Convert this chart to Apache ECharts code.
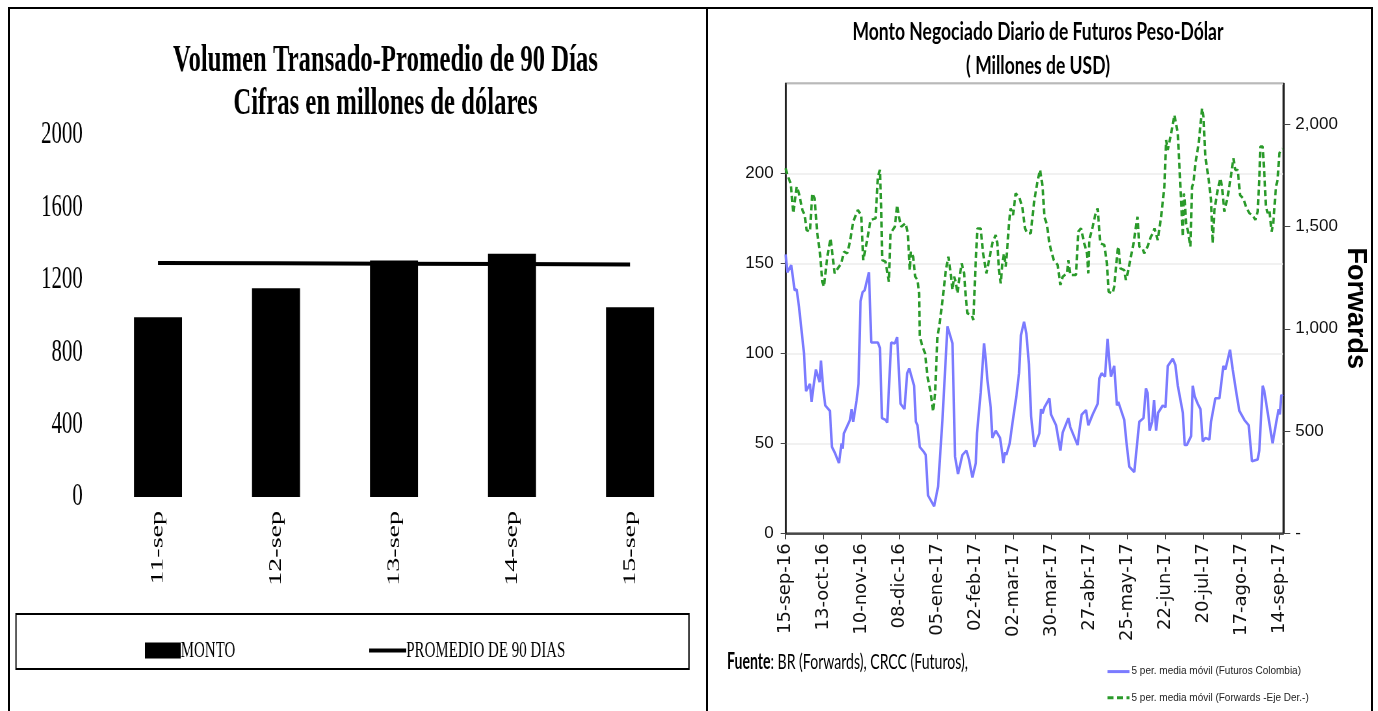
<!DOCTYPE html>
<html><head><meta charset="utf-8">
<script src="https://cdn.jsdelivr.net/npm/echarts@6/dist/echarts.min.js"></script>
<style>
html,body{margin:0;padding:0;background:#fff;overflow:hidden}
#right{position:absolute;left:0;top:0;width:1378px;height:711px}
#left{position:absolute;left:0;top:0;width:1089px;height:711px;transform:scaleX(0.65);transform-origin:0 0}
</style></head><body>
<div id="right"></div><div id="left"></div>
<script>
// ---------- Left chart data ----------
const volCategories = ['11-sep', '12-sep', '13-sep', '14-sep', '15-sep'];
const volMonto = [993, 1154, 1306, 1344, 1049];
const volPromedio90 = [1293, 1291, 1289, 1287, 1284];

// ---------- Right chart data (x = days since 15-sep-16) ----------
const dateTickLabels = ['15-sep-16','13-oct-16','10-nov-16','08-dic-16','05-ene-17','02-feb-17','02-mar-17','30-mar-17','27-abr-17','25-may-17','22-jun-17','20-jul-17','17-ago-17','14-sep-17'];
const futDays = [0,1.2,4.1,6.6,8.1,9.8,13.5,15,17.9,19.1,20.4,22.3,25,26,27.7,29.2,32.6,34.1,36.1,39.3,41.2,42,42.9,47.4,48.6,49.8,52.3,53.7,55.2,56.7,58.2,61.4,63.1,68,69.5,71,73.6,74.9,77.8,80.5,82.2,84.7,87.6,89.6,91.1,94.7,96,97.2,98.9,102.1,103.3,105,109.5,110.7,112.4,113.2,115.6,117.6,119.3,120.5,123,124.9,127.1,130.3,133.3,135.2,137.7,138.4,140.2,141.1,143.8,146.3,147.5,148.8,151.2,152.4,154.9,158.1,159.8,160.5,161.8,162.7,165.2,167.2,168.1,170.1,172.1,173.5,175.8,177.5,179.4,181,183.4,187.1,188.3,189.5,190.8,194.5,195.7,196.9,199.4,202.6,204.3,208.5,209.9,215.3,216.6,218.3,221.5,223.2,226.4,230.1,231.3,233,235.5,237.4,238.7,239.9,242.3,244.3,245.3,249.7,251.4,253.4,257.1,258.3,260.8,263.9,265.7,266.9,268.4,270.3,271.7,273.2,274.7,278.1,280.1,281.8,285.5,287.4,289.2,292.9,294.3,295.8,299,300.2,301.7,303.9,305.9,307.6,309.5,312.5,313.7,315,316.9,319.9,322.8,324.3,327.7,329.7,332.6,334.6,335.8,338.3,341.5,343.9,348.1,349.3,351.8,353,355.5,359.1,362.1,363.6,364.5,365.5,366.5];
const futVals = [155,145,149,135,135.5,126,100,79,83,73,81,91,84,96,80,71,68,48,45,39,50,47,55.5,63,69,62,74,83,129,134,135,145,106,106,103,64,63,61.5,106,105.5,109,72,69,89,91.6,82,62,60,48,45,43.5,21,15,14.4,26,27,63,91,115,112,105.5,42.6,33,43.5,46,41,31,30,39,55.5,78,105.5,97,85,70,53,57,53,44,39,45,43.5,50,61,60,76,89,110,117.6,111,94,65,48,55.5,69,66.6,70,75,66,67,60,46,56,64,59,49,57,66,68.5,60,66,72,86,89,87,108,96,87,93,71,73,63,50,37,34,35,62,64,80.5,78,57,62,74,57,67,71,70,93,97,93.5,82,67,49,49,54,82,76,72,69,51,53,52,62,63,75,75,93,91,102,91,77,68,69,63,60,40,41,46,82,79,67,50,63,69,66,77,76];
const fwdDays = [0,1.2,3.7,5.6,8.1,9.8,12.3,14,15.4,17.9,19.6,21.3,23.3,25.3,27,28.2,30.7,33.1,34.3,36.1,38.5,41,43,45.4,47.4,49.8,53.2,55.7,57.2,60.1,62.6,66.3,68,69.5,70.4,71.2,73.6,74.9,76.1,77.3,80.5,82.2,83.5,85.2,88.4,90.1,91.5,92.3,94,95.5,97.2,98.4,98.9,100.9,102.8,104.6,107,108.7,110.2,111.9,113.2,115.1,116.8,118.1,120,121.7,123,124.2,125.4,126.7,127.9,129.8,131.6,132.8,134,137.2,138.4,140.2,141.4,143.8,145.6,148,150,152.4,154.9,156.1,157.3,158.6,159.8,161,162.3,163.5,164.7,165.9,167.7,169.6,172.1,174.5,176.5,178.2,180.7,183.4,185.9,187.6,189.5,190.8,192.7,194.5,195.7,197.7,200.6,202.6,204.3,207.5,208.5,209.9,214.1,215.8,217.8,220.2,222.2,223.2,223.9,226.4,228.3,230.1,232,235,236.9,238.2,241.1,242.3,244.8,245.5,246.8,249.7,250.9,252.2,254.6,256.6,258.3,259.5,260.8,263.2,264.4,266.9,269.3,270.8,272,274.4,276.9,279.3,280.6,281.8,284.3,286.7,287.9,289.2,290.4,291.6,292.9,293.6,294.3,295.3,296.5,298.5,299.7,300.7,302.2,304.6,307.1,308.1,309.5,312,313.7,314.9,316.2,318.6,320.6,321.8,323.5,326,328.5,330.2,331.6,333.4,335.1,337.5,339.5,342,344.4,346.4,348.1,349.3,350.1,351.8,353,354.2,355.5,356.7,358.4,359.6,361.6,362.8,364.1,365.3,366.5];
const fwdVals = [1785,1752,1711,1565,1695,1662,1581,1556,1483,1475,1662,1638,1467,1369,1230,1206,1353,1442,1451,1271,1296,1320,1377,1369,1426,1524,1581,1556,1336,1434,1532,1540,1744,1777,1597,1336,1328,1336,1230,1467,1499,1605,1548,1499,1516,1467,1287,1377,1353,1255,1239,1173,962,913,880,766,684,595,684,962,1010,1108,1206,1287,1353,1271,1190,1255,1230,1173,1239,1320,1271,1157,1076,1067,1043,1336,1491,1491,1369,1271,1336,1418,1459,1418,1287,1222,1320,1369,1304,1402,1516,1589,1556,1662,1646,1597,1491,1467,1467,1630,1728,1777,1695,1548,1508,1418,1385,1336,1312,1214,1255,1271,1336,1263,1263,1475,1491,1418,1369,1271,1434,1499,1556,1589,1418,1410,1320,1181,1173,1206,1385,1402,1296,1287,1239,1271,1353,1418,1499,1548,1402,1394,1369,1402,1450,1467,1491,1434,1548,1695,1923,1874,1956,2045,2037,1956,1793,1630,1450,1662,1630,1516,1483,1402,1695,1711,1809,1907,2078,2037,1842,1728,1630,1418,1581,1679,1736,1695,1573,1646,1752,1834,1777,1777,1654,1638,1597,1565,1556,1532,1573,1728,1891,1891,1760,1597,1565,1581,1475,1516,1695,1728,1858,1874,1880];

const zip = (xs, ys) => xs.map((x, i) => [x, ys[i]]);

// text width helper for condensed text
const c2d = document.createElement('canvas').getContext('2d');
function textW(font, txt) { c2d.font = font; return c2d.measureText(txt).width; }

const T1 = 'Monto Negociado Diario de Futuros Peso-Dólar';
const T2 = '( Millones de USD)';
const titleFont = 'bold 25px Lato';
const titleScale = 371 / textW(titleFont, T1);
const fuenteScale = 241 / (textW('bold 22px Lato', 'Fuente') + textW('22px Lato', ': BR (Forwards), CRCC (Futuros),'));
const narrow = '"Liberation Sans Narrow", "Liberation Sans", sans-serif';
const hiddenSymbol = { color: 'rgba(0,0,0,0)', borderWidth: 0, opacity: 0 };

// ---------- Right chart ----------
const rc = echarts.init(document.getElementById('right'));
rc.setOption({
  animation: false,
  backgroundColor: '#fff',
  graphic: [
    { type: 'rect', silent: true, shape: { x: 9, y: 8, width: 1363, height: 720 }, style: { fill: null, stroke: '#000', lineWidth: 2 } },
    { type: 'line', silent: true, shape: { x1: 707, y1: 8, x2: 707, y2: 711 }, style: { stroke: '#000', lineWidth: 2 } },
    { type: 'text', x: 1038, y: 32, scaleX: titleScale, style: { text: T1, font: titleFont, fill: '#000', align: 'center', verticalAlign: 'middle' } },
    { type: 'text', x: 1038, y: 66, scaleX: titleScale, style: { text: T2, font: titleFont, fill: '#000', align: 'center', verticalAlign: 'middle' } },
    { type: 'text', x: 727, y: 662, scaleX: fuenteScale, style: {
        text: '{b|Fuente}{r|: BR (Forwards), CRCC (Futuros),}', verticalAlign: 'middle',
        rich: { b: { fontFamily: 'Lato', fontWeight: 'bold', fontSize: 22, fill: '#000' }, r: { fontFamily: 'Lato', fontSize: 22, fill: '#000' } } } }
  ],
  grid: { left: 785.7, right: 94.7, top: 83.4, bottom: 177.7, show: true, borderColor: '#222', borderWidth: 1.5, backgroundColor: 'transparent' },
  legend: {
    orient: 'vertical', left: 1101, top: 661, itemWidth: 22, itemHeight: 14, itemGap: 15,
    itemStyle: hiddenSymbol,
    lineStyle: { width: 3 },
    textStyle: { fontFamily: narrow, fontSize: 10, color: '#222', padding: [0, 0, 0, -3] },
    data: ['5 per. media móvil (Futuros Colombia)', '5 per. media móvil (Forwards -Eje Der.-)']
  },
  xAxis: {
    type: 'value', min: 0, max: 367, interval: 28,
    axisLine: { lineStyle: { color: '#222', width: 1.5 } },
    axisTick: { show: true, length: 6, lineStyle: { color: '#444' } },
    splitLine: { show: false },
    axisLabel: {
      rotate: 90, margin: 10, fontFamily: 'DejaVu Sans', fontSize: 18, color: '#111', showMaxLabel: false,
      formatter: v => (v % 28 === 0 && v / 28 < dateTickLabels.length) ? dateTickLabels[v / 28] : ''
    }
  },
  yAxis: [
    {
      type: 'value', min: 0, max: 250, interval: 50, position: 'left',
      axisLine: { show: true, lineStyle: { color: '#222', width: 1.5 } },
      axisTick: { show: true, length: 5, lineStyle: { color: '#444' } },
      splitLine: { show: true, lineStyle: { color: '#ececec', width: 1.5 } },
      axisLabel: { showMaxLabel: false, margin: 12, fontFamily: narrow, fontSize: 17, color: '#111' }
    },
    {
      type: 'value', min: 0, max: 2200, interval: 500, position: 'right',
      name: 'Forwards', nameLocation: 'middle', nameRotate: -90, nameGap: 54,
      nameTextStyle: { fontFamily: 'Liberation Sans', fontWeight: 'bold', fontSize: 27, color: '#000' },
      axisLine: { show: true, lineStyle: { color: '#222', width: 1.5 } },
      axisTick: { show: true, length: 7, lineStyle: { color: '#444' } },
      splitLine: { show: false },
      axisLabel: { showMaxLabel: false, margin: 12, fontFamily: narrow, fontSize: 17, color: '#111',
        formatter: v => v === 0 ? '-' : v.toLocaleString('en-US') }
    }
  ],
  series: [
    { type: 'line', name: '5 per. media móvil (Futuros Colombia)', data: zip(futDays, futVals), yAxisIndex: 0,
      symbol: 'none', lineStyle: { color: '#7B7BFF', width: 2.5 }, itemStyle: { color: '#7B7BFF' } },
    { type: 'line', name: '5 per. media móvil (Forwards -Eje Der.-)', data: zip(fwdDays, fwdVals), yAxisIndex: 1,
      symbol: 'none', lineStyle: { color: '#2A9A2A', width: 2.5, type: [6, 3.5] }, itemStyle: { color: '#2A9A2A' } }
  ]
});

// ---------- Left chart (horizontally condensed like the reference) ----------
const lc = echarts.init(document.getElementById('left'));
const serif = 'Liberation Serif';
lc.setOption({
  animation: false,
  title: {
    text: 'Volumen Transado-Promedio de 90 Días\nCifras en millones de dólares',
    left: 588, top: 35, textAlign: 'center',
    textStyle: { fontFamily: serif, fontWeight: 'bold', fontSize: 38, lineHeight: 43, color: '#000' }
  },
  grid: { left: 152.3, right: 29, top: 135, bottom: 214 },
  legend: [
    { data: [{ name: 'MONTO', icon: 'rect' }], left: 218, top: 634, itemWidth: 55, itemHeight: 16,
      textStyle: { fontFamily: serif, fontSize: 23, color: '#000', padding: [0, 0, 0, -5] } },
    { data: ['PROMEDIO DE 90 DIAS'], left: 561, top: 634, itemWidth: 57, itemHeight: 16,
      itemStyle: hiddenSymbol, lineStyle: { width: 4 },
      textStyle: { fontFamily: serif, fontSize: 23, color: '#000', padding: [0, 0, 0, -5] } }
  ],
  graphic: [
    { type: 'rect', silent: true, shape: { x: 24.6, y: 614, width: 1035.4, height: 55 }, style: { fill: null, stroke: '#000', lineWidth: 2 } }
  ],
  xAxis: {
    type: 'category', data: volCategories,
    axisLine: { show: false }, axisTick: { show: false },
    axisLabel: { rotate: 90, margin: 14, fontFamily: serif, fontSize: 28, color: '#000' }
  },
  yAxis: {
    type: 'value', min: 0, max: 2000, interval: 400,
    axisLine: { show: false }, axisTick: { show: false }, splitLine: { show: false },
    axisLabel: { margin: 25, fontFamily: serif, fontSize: 32, color: '#000', formatter: v => String(v) }
  },
  series: [
    { type: 'bar', name: 'MONTO', data: volMonto, barWidth: '40.7%', itemStyle: { color: '#000' } },
    { type: 'line', name: 'PROMEDIO DE 90 DIAS', data: volPromedio90, symbol: 'none',
      lineStyle: { color: '#000', width: 4 }, itemStyle: { color: '#000' } }
  ]
});
</script>
</body></html>
